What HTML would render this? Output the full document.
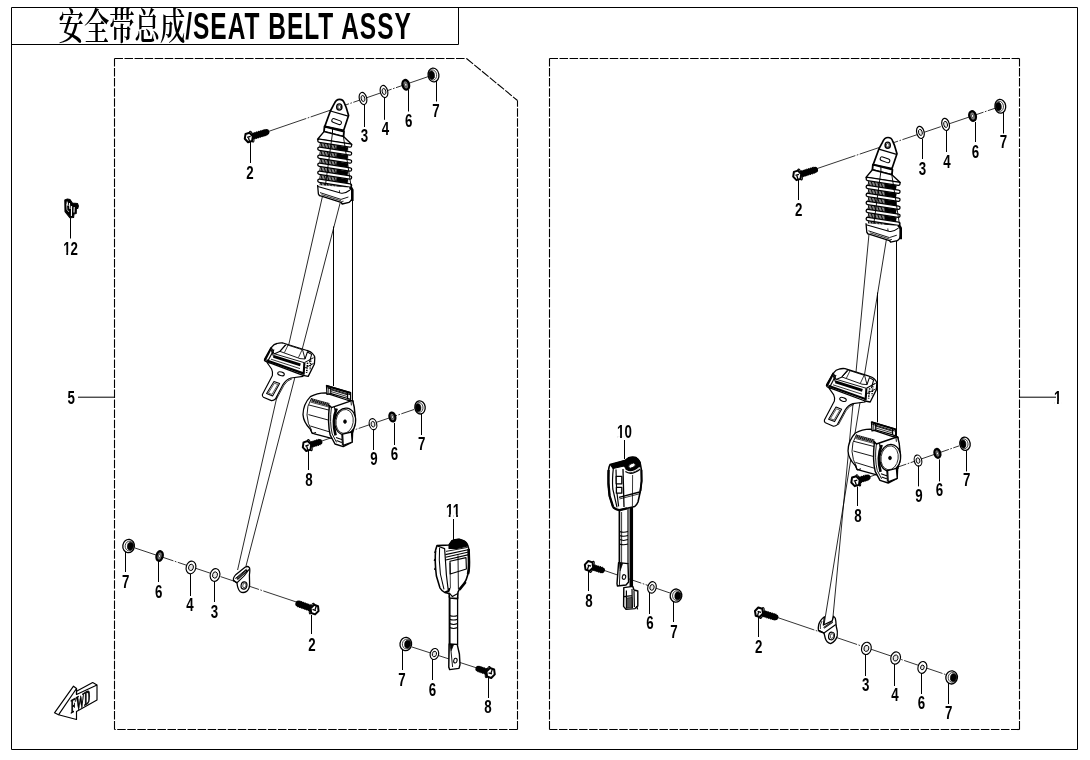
<!DOCTYPE html>
<html lang="zh"><head><meta charset="utf-8"><title>安全带总成/SEAT BELT ASSY</title>
<style>
html,body{margin:0;padding:0;background:#fff;}
body{width:1090px;height:760px;overflow:hidden;}
svg{display:block;filter:grayscale(1);}
.lb{font-family:"Liberation Sans",sans-serif;font-weight:bold;font-size:18px;fill:#000;stroke:none;}
.tcn{font-family:"Liberation Serif","Noto Serif CJK SC",serif;font-size:37px;font-weight:600;fill:#000;stroke:none;}
.ten{font-family:"Liberation Sans",sans-serif;font-weight:bold;font-size:37.4px;letter-spacing:1.5px;fill:#000;stroke:none;}
.fwd{font-family:"Liberation Serif",serif;font-weight:bold;font-size:11px;fill:#000;stroke:#000;stroke-width:0.5px;}
</style></head><body>
<svg width="1090" height="760" viewBox="0 0 1090 760" fill="none" stroke="#000" stroke-linecap="butt" stroke-linejoin="round">
<rect x="0" y="0" width="1090" height="760" fill="#fff" stroke="none"/>
<g id="frame">
<rect x="11.5" y="7.5" width="1066" height="742" stroke-width="1"/>
<path d="M11.5 44.5 H458.5 V7.5" stroke-width="1"/>
<line x1="114.5" y1="58.5" x2="466.5" y2="58.5" stroke-dasharray="8.5 1.545" stroke-width="1.1"/>
<line x1="466.5" y1="58.5" x2="517.5" y2="100.5" stroke-dasharray="8.5 1.545" stroke-width="1.1"/>
<line x1="517.5" y1="729.5" x2="517.5" y2="100.5" stroke-dasharray="8.5 1.545" stroke-width="1.1"/>
<line x1="517.5" y1="729.5" x2="114.5" y2="729.5" stroke-dasharray="8.5 1.545" stroke-width="1.1"/>
<line x1="114.5" y1="729.5" x2="114.5" y2="58.5" stroke-dasharray="8.5 1.545" stroke-width="1.1"/>
<line x1="549.5" y1="58.5" x2="1019.5" y2="58.5" stroke-dasharray="8.5 1.545" stroke-width="1.1"/>
<line x1="1019.5" y1="729.5" x2="1019.5" y2="58.5" stroke-dasharray="8.5 1.545" stroke-width="1.1"/>
<line x1="1019.5" y1="729.5" x2="549.5" y2="729.5" stroke-dasharray="8.5 1.545" stroke-width="1.1"/>
<line x1="549.5" y1="729.5" x2="549.5" y2="58.5" stroke-dasharray="8.5 1.545" stroke-width="1.1"/>
</g>
<g id="title">
<text class="tcn" transform="translate(58.6 39.6) scale(0.685 1)">安全带总成</text>
<text class="ten" transform="translate(185.2 38.8) scale(0.655 1)">/SEAT BELT ASSY</text>
</g>
<g id="side-labels">
<line x1="78" y1="397.2" x2="114.5" y2="397.2" stroke-width="1.0" />
<g transform="translate(71.2 403.5) scale(0.74 1)">
<text class="lb" text-anchor="middle">5</text>
</g>
<line x1="1019.5" y1="397.2" x2="1056" y2="397.2" stroke-width="1.0" />
<g transform="translate(1057.6 403.5) scale(0.74 1)">
<text class="lb" text-anchor="middle">1</text>
<rect x="-4.4" y="-2.05" width="3.63" height="2.6" fill="#fff" stroke="none"/>
<rect x="1.62" y="-2.05" width="3.6" height="2.6" fill="#fff" stroke="none"/>
</g>
<line x1="70.5" y1="218" x2="70.5" y2="238.5" stroke-width="1.0" />
<g transform="translate(70.6 254.5) scale(0.74 1)">
<text class="lb" text-anchor="middle">12</text>
<rect x="-9.41" y="-2.05" width="3.63" height="2.6" fill="#fff" stroke="none"/>
<rect x="-3.38" y="-2.05" width="3.6" height="2.6" fill="#fff" stroke="none"/>
</g>
</g>
<g id="L-top-row">
<line x1="268" y1="131.6" x2="430" y2="76" stroke-width="0.8" stroke-dasharray="40.5 1.5 1.6 1.5" stroke-dashoffset="0"/>
<line x1="251.67" y1="136.64" x2="266.32" y2="132.23" stroke-width="6.2" stroke-linecap="round"/>
<line x1="251.67" y1="136.64" x2="266.32" y2="132.23" stroke-width="7.1000000000000005" stroke-dasharray="1 0.9"/>
<ellipse cx="251.67" cy="136.64" rx="1.5" ry="5.6" stroke-width="1.2" fill="#fff" transform="rotate(-16.75 251.67 136.64)" />
<path d="M252.82 136.29 L252.06 141.04 L248.04 142.25 L244.78 138.71 L245.54 133.96 L249.56 132.75 Z" stroke-width="2.0" fill="#fff" />
<line x1="247.12" y1="137.48" x2="250.57" y2="136.44" stroke-width="1.3" />
<line x1="248.42" y1="137.62" x2="249.57" y2="141.45" stroke-width="1.3" />
<ellipse cx="363" cy="98.5" rx="3.7" ry="6.2" stroke-width="1.15" fill="#fff" transform="rotate(-14 363 98.5)" />
<ellipse cx="363" cy="98.5" rx="1.85" ry="3.1" stroke-width="0.9" fill="#e8e8e8" transform="rotate(-14 363 98.5)" />
<ellipse cx="384" cy="91.5" rx="3.7" ry="6.2" stroke-width="1.15" fill="#fff" transform="rotate(-14 384 91.5)" />
<ellipse cx="384" cy="91.5" rx="1.85" ry="3.1" stroke-width="0.9" fill="#e8e8e8" transform="rotate(-14 384 91.5)" />
<ellipse cx="405.8" cy="84.8" rx="3.25" ry="4.85" stroke-width="2.3" fill="#777" transform="rotate(-14 405.8 84.8)" />
<ellipse cx="405.8" cy="84.8" rx="1.1" ry="1.5" stroke-width="0.5" fill="#fff" transform="rotate(-14 405.8 84.8)" />
<ellipse cx="433.5" cy="75" rx="5.4" ry="6.9" stroke-width="1.3" fill="#fff" transform="rotate(-8 433.5 75)" />
<ellipse cx="432.74" cy="75" rx="3.89" ry="5.11" stroke-width="0.7" fill="none" transform="rotate(-8 432.74 75)" />
<ellipse cx="431.8" cy="75.2" rx="2.7" ry="4.14" stroke-width="0.6" fill="#000" transform="rotate(-8 431.8 75.2)" />
<line x1="250.5" y1="141.6" x2="250.5" y2="163" stroke-width="1.0" />
<g transform="translate(250 178.5) scale(0.74 1)">
<text class="lb" text-anchor="middle">2</text>
</g>
<line x1="364.5" y1="105" x2="364.5" y2="127" stroke-width="1.0" />
<g transform="translate(364.4 141.5) scale(0.74 1)">
<text class="lb" text-anchor="middle">3</text>
</g>
<line x1="384.5" y1="98" x2="384.5" y2="119.8" stroke-width="1.0" />
<g transform="translate(385.4 134.9) scale(0.74 1)">
<text class="lb" text-anchor="middle">4</text>
</g>
<line x1="408.5" y1="90" x2="408.5" y2="111.5" stroke-width="1.0" />
<g transform="translate(408.6 126.5) scale(0.74 1)">
<text class="lb" text-anchor="middle">6</text>
</g>
<line x1="436.5" y1="80.5" x2="436.5" y2="101.5" stroke-width="1.0" />
<g transform="translate(436 116.5) scale(0.74 1)">
<text class="lb" text-anchor="middle">7</text>
</g>
</g>
<g id="L-retr-row">
<line x1="316" y1="443" x2="414" y2="409.5" stroke-width="0.8" stroke-dasharray="40.5 1.5 1.6 1.5" stroke-dashoffset="0"/>
<line x1="309.86" y1="445.09" x2="319.47" y2="442.02" stroke-width="5.8" stroke-linecap="round"/>
<line x1="309.86" y1="445.09" x2="319.47" y2="442.02" stroke-width="6.7" stroke-dasharray="1 0.9"/>
<ellipse cx="309.86" cy="445.09" rx="1.5" ry="5.8" stroke-width="1.2" fill="#fff" transform="rotate(-17.72 309.86 445.09)" />
<path d="M311.19 444.66 L310.47 449.62 L306.27 450.96 L302.81 447.34 L303.53 442.38 L307.73 441.04 Z" stroke-width="2.0" fill="#fff" />
<line x1="305.32" y1="446.01" x2="308.75" y2="444.92" stroke-width="1.3" />
<line x1="306.62" y1="446.12" x2="307.9" y2="450.12" stroke-width="1.3" />
<ellipse cx="373" cy="424.2" rx="3.7" ry="5.6" stroke-width="1.15" fill="#fff" transform="rotate(-14 373 424.2)" />
<ellipse cx="373" cy="424.2" rx="1.85" ry="2.8" stroke-width="0.9" fill="#e8e8e8" transform="rotate(-14 373 424.2)" />
<ellipse cx="392.4" cy="417" rx="2.85" ry="4.45" stroke-width="2.3" fill="#777" transform="rotate(-14 392.4 417)" />
<ellipse cx="392.4" cy="417" rx="1" ry="1.4" stroke-width="0.5" fill="#fff" transform="rotate(-14 392.4 417)" />
<ellipse cx="420" cy="407.4" rx="5.2" ry="6.6" stroke-width="1.3" fill="#fff" transform="rotate(-8 420 407.4)" />
<ellipse cx="419.24" cy="407.4" rx="3.74" ry="4.88" stroke-width="0.7" fill="none" transform="rotate(-8 419.24 407.4)" />
<ellipse cx="418.3" cy="407.6" rx="2.6" ry="3.96" stroke-width="0.6" fill="#000" transform="rotate(-8 418.3 407.6)" />
<line x1="373.5" y1="429" x2="373.5" y2="450" stroke-width="1.0" />
<g transform="translate(374 465.1) scale(0.74 1)">
<text class="lb" text-anchor="middle">9</text>
</g>
<line x1="394.5" y1="423" x2="394.5" y2="445" stroke-width="1.0" />
<g transform="translate(394.5 459.5) scale(0.74 1)">
<text class="lb" text-anchor="middle">6</text>
</g>
<line x1="421.5" y1="414" x2="421.5" y2="435" stroke-width="1.0" />
<g transform="translate(421.6 450) scale(0.74 1)">
<text class="lb" text-anchor="middle">7</text>
</g>
<line x1="308.5" y1="450.5" x2="308.5" y2="470" stroke-width="1.0" />
<g transform="translate(309 485.5) scale(0.74 1)">
<text class="lb" text-anchor="middle">8</text>
</g>
</g>
<g id="L-low-row">
<line x1="135" y1="548" x2="297.6" y2="602.4" stroke-width="0.8" stroke-dasharray="40.5 1.5 1.6 1.5" stroke-dashoffset="0"/>
<ellipse cx="128.6" cy="546" rx="5.8" ry="6.6" stroke-width="1.3" fill="#fff" transform="rotate(8 128.6 546)" />
<ellipse cx="129.36" cy="546" rx="4.18" ry="4.88" stroke-width="0.7" fill="none" transform="rotate(8 129.36 546)" />
<ellipse cx="130.3" cy="546.2" rx="2.9" ry="3.96" stroke-width="0.6" fill="#000" transform="rotate(8 130.3 546.2)" />
<ellipse cx="159.6" cy="556" rx="3.05" ry="4.85" stroke-width="2.3" fill="#777" transform="rotate(14 159.6 556)" />
<ellipse cx="159.6" cy="556" rx="1.05" ry="1.5" stroke-width="0.5" fill="#fff" transform="rotate(14 159.6 556)" />
<ellipse cx="191" cy="567.4" rx="4.8" ry="6.4" stroke-width="1.15" fill="#fff" transform="rotate(14 191 567.4)" />
<ellipse cx="191" cy="567.4" rx="2.4" ry="3.2" stroke-width="0.9" fill="#e8e8e8" transform="rotate(14 191 567.4)" />
<ellipse cx="215" cy="575" rx="4.8" ry="6.4" stroke-width="1.15" fill="#fff" transform="rotate(14 215 575)" />
<ellipse cx="215" cy="575" rx="2.4" ry="3.2" stroke-width="0.9" fill="#e8e8e8" transform="rotate(14 215 575)" />
<line x1="311.78" y1="608.58" x2="298.44" y2="603.74" stroke-width="6.2" stroke-linecap="round"/>
<line x1="311.78" y1="608.58" x2="298.44" y2="603.74" stroke-width="7.1000000000000005" stroke-dasharray="1 0.9"/>
<ellipse cx="311.78" cy="608.58" rx="1.5" ry="5.6" stroke-width="1.2" fill="#fff" transform="rotate(-160.07 311.78 608.58)" />
<path d="M310.65 608.17 L314.1 604.81 L318.05 606.25 L318.55 611.03 L315.1 614.39 L311.15 612.95 Z" stroke-width="2.0" fill="#fff" />
<line x1="315.93" y1="610.62" x2="312.55" y2="609.39" stroke-width="1.3" />
<line x1="314.98" y1="609.74" x2="316.34" y2="605.98" stroke-width="1.3" />
<line x1="125.5" y1="552" x2="125.5" y2="572" stroke-width="1.0" />
<g transform="translate(125.6 587.5) scale(0.74 1)">
<text class="lb" text-anchor="middle">7</text>
</g>
<line x1="158.5" y1="561" x2="158.5" y2="582" stroke-width="1.0" />
<g transform="translate(158.6 597.9) scale(0.74 1)">
<text class="lb" text-anchor="middle">6</text>
</g>
<line x1="190.5" y1="574" x2="190.5" y2="596" stroke-width="1.0" />
<g transform="translate(190 610.9) scale(0.74 1)">
<text class="lb" text-anchor="middle">4</text>
</g>
<line x1="214.5" y1="582" x2="214.5" y2="602" stroke-width="1.0" />
<g transform="translate(214.4 617.5) scale(0.74 1)">
<text class="lb" text-anchor="middle">3</text>
</g>
<line x1="311.5" y1="615" x2="311.5" y2="634" stroke-width="1.0" />
<g transform="translate(312 650.9) scale(0.74 1)">
<text class="lb" text-anchor="middle">2</text>
</g>
</g>
<g id="L-buckle-row">
<line x1="412" y1="647" x2="477" y2="668" stroke-width="0.8" stroke-dasharray="40.5 1.5 1.6 1.5" stroke-dashoffset="0"/>
<ellipse cx="405.8" cy="644" rx="5.8" ry="6.6" stroke-width="1.3" fill="#fff" transform="rotate(8 405.8 644)" />
<ellipse cx="406.56" cy="644" rx="4.18" ry="4.88" stroke-width="0.7" fill="none" transform="rotate(8 406.56 644)" />
<ellipse cx="407.5" cy="644.2" rx="2.9" ry="3.96" stroke-width="0.6" fill="#000" transform="rotate(8 407.5 644.2)" />
<ellipse cx="434.4" cy="654" rx="4.2" ry="5.6" stroke-width="1.15" fill="#fff" transform="rotate(14 434.4 654)" />
<ellipse cx="434.4" cy="654" rx="2.1" ry="2.8" stroke-width="0.9" fill="#e8e8e8" transform="rotate(14 434.4 654)" />
<line x1="487.76" y1="672.04" x2="478.32" y2="668.85" stroke-width="5.8" stroke-linecap="round"/>
<line x1="487.76" y1="672.04" x2="478.32" y2="668.85" stroke-width="6.7" stroke-dasharray="1 0.9"/>
<ellipse cx="487.76" cy="672.04" rx="1.5" ry="5.8" stroke-width="1.2" fill="#fff" transform="rotate(-161.32 487.76 672.04)" />
<path d="M486.43 671.59 L489.96 668.03 L494.13 669.44 L494.77 674.41 L491.24 677.97 L487.07 676.56 Z" stroke-width="2.0" fill="#fff" />
<line x1="491.96" y1="673.99" x2="488.55" y2="672.83" stroke-width="1.3" />
<line x1="490.98" y1="673.13" x2="492.32" y2="669.15" stroke-width="1.3" />
<line x1="402.5" y1="649" x2="402.5" y2="670" stroke-width="1.0" />
<g transform="translate(402 685.9) scale(0.74 1)">
<text class="lb" text-anchor="middle">7</text>
</g>
<line x1="432.5" y1="659" x2="432.5" y2="680" stroke-width="1.0" />
<g transform="translate(432.4 695.5) scale(0.74 1)">
<text class="lb" text-anchor="middle">6</text>
</g>
<line x1="488.5" y1="678" x2="488.5" y2="698" stroke-width="1.0" />
<g transform="translate(488 712.9) scale(0.74 1)">
<text class="lb" text-anchor="middle">8</text>
</g>
<line x1="453.5" y1="519" x2="453.5" y2="540" stroke-width="1.0" />
<g transform="translate(453 516.5) scale(0.74 1)">
<text class="lb" text-anchor="middle">11</text>
<rect x="-9.41" y="-2.05" width="3.63" height="2.6" fill="#fff" stroke="none"/>
<rect x="-3.38" y="-2.05" width="3.6" height="2.6" fill="#fff" stroke="none"/>
<rect x="0.6" y="-2.05" width="3.63" height="2.6" fill="#fff" stroke="none"/>
<rect x="6.62" y="-2.05" width="3.6" height="2.6" fill="#fff" stroke="none"/>
</g>
</g>
<g id="R-buckle-row">
<line x1="603" y1="570" x2="670" y2="593" stroke-width="0.8" stroke-dasharray="40.5 1.5 1.6 1.5" stroke-dashoffset="0"/>
<line x1="591.86" y1="566.91" x2="602.07" y2="570.18" stroke-width="5.8" stroke-linecap="round"/>
<line x1="591.86" y1="566.91" x2="602.07" y2="570.18" stroke-width="6.7" stroke-dasharray="1 0.9"/>
<ellipse cx="591.86" cy="566.91" rx="1.5" ry="5.8" stroke-width="1.2" fill="#fff" transform="rotate(17.74 591.86 566.91)" />
<path d="M593.19 567.34 L589.72 570.96 L585.53 569.62 L584.81 564.66 L588.28 561.04 L592.47 562.38 Z" stroke-width="2.0" fill="#fff" />
<line x1="587.63" y1="565.04" x2="591.06" y2="566.13" stroke-width="1.3" />
<line x1="588.62" y1="565.88" x2="587.34" y2="569.88" stroke-width="1.3" />
<ellipse cx="652" cy="587.4" rx="4.2" ry="5.8" stroke-width="1.15" fill="#fff" transform="rotate(14 652 587.4)" />
<ellipse cx="652" cy="587.4" rx="2.1" ry="2.9" stroke-width="0.9" fill="#e8e8e8" transform="rotate(14 652 587.4)" />
<ellipse cx="676" cy="595.6" rx="5.8" ry="6.6" stroke-width="1.3" fill="#fff" transform="rotate(8 676 595.6)" />
<ellipse cx="676.76" cy="595.6" rx="4.18" ry="4.88" stroke-width="0.7" fill="none" transform="rotate(8 676.76 595.6)" />
<ellipse cx="677.7" cy="595.8" rx="2.9" ry="3.96" stroke-width="0.6" fill="#000" transform="rotate(8 677.7 595.8)" />
<line x1="588.5" y1="571" x2="588.5" y2="591" stroke-width="1.0" />
<g transform="translate(589 606.5) scale(0.74 1)">
<text class="lb" text-anchor="middle">8</text>
</g>
<line x1="649.5" y1="593" x2="649.5" y2="614" stroke-width="1.0" />
<g transform="translate(650 629.1) scale(0.74 1)">
<text class="lb" text-anchor="middle">6</text>
</g>
<line x1="673.5" y1="602" x2="673.5" y2="622" stroke-width="1.0" />
<g transform="translate(674 637.9) scale(0.74 1)">
<text class="lb" text-anchor="middle">7</text>
</g>
<line x1="624.5" y1="440" x2="624.5" y2="459" stroke-width="1.0" />
<g transform="translate(624.4 438.1) scale(0.74 1)">
<text class="lb" text-anchor="middle">10</text>
<rect x="-9.41" y="-2.05" width="3.63" height="2.6" fill="#fff" stroke="none"/>
<rect x="-3.38" y="-2.05" width="3.6" height="2.6" fill="#fff" stroke="none"/>
</g>
</g>
<g id="R-top-row">
<line x1="817" y1="168.6" x2="997" y2="107.6" stroke-width="0.8" stroke-dasharray="40.5 1.5 1.6 1.5" stroke-dashoffset="0"/>
<line x1="800.06" y1="174.5" x2="814.93" y2="169.85" stroke-width="6.2" stroke-linecap="round"/>
<line x1="800.06" y1="174.5" x2="814.93" y2="169.85" stroke-width="7.1000000000000005" stroke-dasharray="1 0.9"/>
<ellipse cx="800.06" cy="174.5" rx="1.5" ry="5.6" stroke-width="1.2" fill="#fff" transform="rotate(-17.39 800.06 174.5)" />
<path d="M801.21 174.14 L800.5 178.9 L796.49 180.16 L793.19 176.66 L793.9 171.9 L797.91 170.64 Z" stroke-width="2.0" fill="#fff" />
<line x1="795.52" y1="175.4" x2="798.96" y2="174.33" stroke-width="1.3" />
<line x1="796.82" y1="175.52" x2="798.01" y2="179.34" stroke-width="1.3" />
<ellipse cx="920.4" cy="132.4" rx="3.7" ry="6.2" stroke-width="1.15" fill="#fff" transform="rotate(-14 920.4 132.4)" />
<ellipse cx="920.4" cy="132.4" rx="1.85" ry="3.1" stroke-width="0.9" fill="#e8e8e8" transform="rotate(-14 920.4 132.4)" />
<ellipse cx="945.6" cy="124.4" rx="3.7" ry="6.2" stroke-width="1.15" fill="#fff" transform="rotate(-14 945.6 124.4)" />
<ellipse cx="945.6" cy="124.4" rx="1.85" ry="3.1" stroke-width="0.9" fill="#e8e8e8" transform="rotate(-14 945.6 124.4)" />
<ellipse cx="972.6" cy="116" rx="3.25" ry="4.85" stroke-width="2.3" fill="#777" transform="rotate(-14 972.6 116)" />
<ellipse cx="972.6" cy="116" rx="1.1" ry="1.5" stroke-width="0.5" fill="#fff" transform="rotate(-14 972.6 116)" />
<ellipse cx="1000.3" cy="106.3" rx="5.4" ry="6.9" stroke-width="1.3" fill="#fff" transform="rotate(-8 1000.3 106.3)" />
<ellipse cx="999.53" cy="106.3" rx="3.89" ry="5.11" stroke-width="0.7" fill="none" transform="rotate(-8 999.53 106.3)" />
<ellipse cx="998.6" cy="106.5" rx="2.7" ry="4.14" stroke-width="0.6" fill="#000" transform="rotate(-8 998.6 106.5)" />
<line x1="798.5" y1="180" x2="798.5" y2="200" stroke-width="1.0" />
<g transform="translate(798.6 216.1) scale(0.74 1)">
<text class="lb" text-anchor="middle">2</text>
</g>
<line x1="922.5" y1="139" x2="922.5" y2="159" stroke-width="1.0" />
<g transform="translate(922.4 174.5) scale(0.74 1)">
<text class="lb" text-anchor="middle">3</text>
</g>
<line x1="946.5" y1="131" x2="946.5" y2="152" stroke-width="1.0" />
<g transform="translate(947 168.1) scale(0.74 1)">
<text class="lb" text-anchor="middle">4</text>
</g>
<line x1="975.5" y1="122" x2="975.5" y2="142" stroke-width="1.0" />
<g transform="translate(975.4 157.5) scale(0.74 1)">
<text class="lb" text-anchor="middle">6</text>
</g>
<line x1="1003.5" y1="112" x2="1003.5" y2="133.5" stroke-width="1.0" />
<g transform="translate(1003.4 148) scale(0.74 1)">
<text class="lb" text-anchor="middle">7</text>
</g>
</g>
<g id="R-retr-row">
<line x1="868" y1="477.4" x2="959" y2="445.9" stroke-width="0.8" stroke-dasharray="40.5 1.5 1.6 1.5" stroke-dashoffset="0"/>
<line x1="858.36" y1="480.31" x2="867.66" y2="477.4" stroke-width="5.8" stroke-linecap="round"/>
<line x1="858.36" y1="480.31" x2="867.66" y2="477.4" stroke-width="6.7" stroke-dasharray="1 0.9"/>
<ellipse cx="858.36" cy="480.31" rx="1.5" ry="5.8" stroke-width="1.2" fill="#fff" transform="rotate(-17.33 858.36 480.31)" />
<path d="M859.7 479.89 L858.94 484.84 L854.74 486.15 L851.3 482.51 L852.06 477.56 L856.26 476.25 Z" stroke-width="2.0" fill="#fff" />
<line x1="853.82" y1="481.2" x2="857.26" y2="480.13" stroke-width="1.3" />
<line x1="855.12" y1="481.32" x2="856.37" y2="485.33" stroke-width="1.3" />
<ellipse cx="918" cy="460.6" rx="3.7" ry="5.6" stroke-width="1.15" fill="#fff" transform="rotate(-14 918 460.6)" />
<ellipse cx="918" cy="460.6" rx="1.85" ry="2.8" stroke-width="0.9" fill="#e8e8e8" transform="rotate(-14 918 460.6)" />
<ellipse cx="937.4" cy="453.4" rx="2.85" ry="4.45" stroke-width="2.3" fill="#777" transform="rotate(-14 937.4 453.4)" />
<ellipse cx="937.4" cy="453.4" rx="1" ry="1.4" stroke-width="0.5" fill="#fff" transform="rotate(-14 937.4 453.4)" />
<ellipse cx="965" cy="443.8" rx="5.2" ry="6.6" stroke-width="1.3" fill="#fff" transform="rotate(-8 965 443.8)" />
<ellipse cx="964.24" cy="443.8" rx="3.74" ry="4.88" stroke-width="0.7" fill="none" transform="rotate(-8 964.24 443.8)" />
<ellipse cx="963.3" cy="444" rx="2.6" ry="3.96" stroke-width="0.6" fill="#000" transform="rotate(-8 963.3 444)" />
<line x1="918.5" y1="465.4" x2="918.5" y2="486.4" stroke-width="1.0" />
<g transform="translate(919 501.5) scale(0.74 1)">
<text class="lb" text-anchor="middle">9</text>
</g>
<line x1="939.5" y1="459.4" x2="939.5" y2="481.4" stroke-width="1.0" />
<g transform="translate(939.5 495.9) scale(0.74 1)">
<text class="lb" text-anchor="middle">6</text>
</g>
<line x1="966.5" y1="450.4" x2="966.5" y2="471.4" stroke-width="1.0" />
<g transform="translate(966.6 486.4) scale(0.74 1)">
<text class="lb" text-anchor="middle">7</text>
</g>
<line x1="857.5" y1="486.5" x2="857.5" y2="506" stroke-width="1.0" />
<g transform="translate(858 521.5) scale(0.74 1)">
<text class="lb" text-anchor="middle">8</text>
</g>
</g>
<g id="R-low-row">
<line x1="776" y1="617" x2="947" y2="675" stroke-width="0.8" stroke-dasharray="40.5 1.5 1.6 1.5" stroke-dashoffset="0"/>
<line x1="761.87" y1="613.07" x2="775.32" y2="617.17" stroke-width="6.2" stroke-linecap="round"/>
<line x1="761.87" y1="613.07" x2="775.32" y2="617.17" stroke-width="7.1000000000000005" stroke-dasharray="1 0.9"/>
<ellipse cx="761.87" cy="613.07" rx="1.5" ry="5.6" stroke-width="1.2" fill="#fff" transform="rotate(16.93 761.87 613.07)" />
<path d="M763.02 613.42 L759.75 616.95 L755.73 615.73 L754.98 610.98 L758.25 607.45 L762.27 608.67 Z" stroke-width="2.0" fill="#fff" />
<line x1="757.61" y1="611.26" x2="761.06" y2="612.3" stroke-width="1.3" />
<line x1="758.62" y1="612.08" x2="757.45" y2="615.91" stroke-width="1.3" />
<ellipse cx="866.4" cy="648.4" rx="4.8" ry="6.2" stroke-width="1.15" fill="#fff" transform="rotate(14 866.4 648.4)" />
<ellipse cx="866.4" cy="648.4" rx="2.4" ry="3.1" stroke-width="0.9" fill="#e8e8e8" transform="rotate(14 866.4 648.4)" />
<ellipse cx="895.6" cy="658" rx="4.8" ry="6.2" stroke-width="1.15" fill="#fff" transform="rotate(14 895.6 658)" />
<ellipse cx="895.6" cy="658" rx="2.4" ry="3.1" stroke-width="0.9" fill="#e8e8e8" transform="rotate(14 895.6 658)" />
<ellipse cx="922.4" cy="667.4" rx="4.4" ry="6" stroke-width="1.15" fill="#fff" transform="rotate(14 922.4 667.4)" />
<ellipse cx="922.4" cy="667.4" rx="1.76" ry="2.4" stroke-width="0.9" fill="#e8e8e8" transform="rotate(14 922.4 667.4)" />
<ellipse cx="951.6" cy="677.4" rx="5.8" ry="6.6" stroke-width="1.3" fill="#fff" transform="rotate(8 951.6 677.4)" />
<ellipse cx="952.37" cy="677.4" rx="4.18" ry="4.88" stroke-width="0.7" fill="none" transform="rotate(8 952.37 677.4)" />
<ellipse cx="953.3" cy="677.6" rx="2.9" ry="3.96" stroke-width="0.6" fill="#000" transform="rotate(8 953.3 677.6)" />
<line x1="758.5" y1="617" x2="758.5" y2="637" stroke-width="1.0" />
<g transform="translate(758.6 653.1) scale(0.74 1)">
<text class="lb" text-anchor="middle">2</text>
</g>
<line x1="865.5" y1="655" x2="865.5" y2="676" stroke-width="1.0" />
<g transform="translate(865.6 690.9) scale(0.74 1)">
<text class="lb" text-anchor="middle">3</text>
</g>
<line x1="894.5" y1="664" x2="894.5" y2="686" stroke-width="1.0" />
<g transform="translate(895 701.1) scale(0.74 1)">
<text class="lb" text-anchor="middle">4</text>
</g>
<line x1="921.5" y1="673" x2="921.5" y2="694" stroke-width="1.0" />
<g transform="translate(921.4 708.5) scale(0.74 1)">
<text class="lb" text-anchor="middle">6</text>
</g>
<line x1="948.5" y1="683" x2="948.5" y2="704" stroke-width="1.0" />
<g transform="translate(948.6 718.9) scale(0.74 1)">
<text class="lb" text-anchor="middle">7</text>
</g>
</g>
<g id="L-belt">
<line x1="322.4" y1="196.6" x2="237.6" y2="570" stroke-width="0.85" />
<line x1="340.3" y1="202.3" x2="246" y2="566" stroke-width="0.85" />
<line x1="333.5" y1="226.5" x2="333.5" y2="386" stroke-width="1.0" />
<line x1="352.5" y1="192" x2="352.5" y2="406" stroke-width="1.0" />
</g>
<g id="R-belt">
<line x1="869" y1="234" x2="832.6" y2="621" stroke-width="0.85" />
<line x1="886.4" y1="239.4" x2="824" y2="625" stroke-width="0.85" />
<line x1="877.5" y1="292.5" x2="877.5" y2="422.4" stroke-width="1.0" />
<line x1="896.5" y1="230" x2="896.5" y2="442.4" stroke-width="1.0" />
</g>
<g id="L-upper" transform="translate(0 0)">
<path d="M334 104.2 C335.5 100.5 337.5 99.3 339.6 99.3 C342 99.3 343.6 100.8 344.4 103.2 L346.2 107.5 L348.6 115.6 L343.6 130.4 L324.8 126.4 L330.4 111 Z" stroke-width="1.69" fill="#fff" />
<line x1="330.4" y1="111" x2="348.2" y2="116.2" stroke-width="1.3" />
<ellipse cx="339.3" cy="107" rx="2.6" ry="3.1" stroke-width="1.43" fill="none" />
<ellipse cx="339.3" cy="107" rx="1.4" ry="1.8" stroke-width="0.65" fill="none" />
<rect x="331.6" y="119.7" width="10" height="3.8" rx="1.9" stroke-width="1.0" transform="rotate(20 336.6 121.6)"/>
<path d="M324.5 126.5 L344 131.5 L343.5 136.6 L324 131.6 Z" stroke-width="1.82" fill="#fff" />
<line x1="332.5" y1="128.6" x2="332.5" y2="133.8" stroke-width="1.04" />
<path d="M324 131.6 L317.6 139.2 L351.8 144.4 L343.5 136.6 Z" stroke-width="1.43" fill="#fff" />
<path d="M319.6 144.8 L348.4 149.4" stroke="#000" stroke-width="4.2" stroke-dasharray="0.95 0.5"/>
<path d="M336.4 147.5 L347.6 149.3" stroke="#000" stroke-width="3.8"/>
<path d="M319.6 152.8 L348.4 157.4" stroke="#000" stroke-width="4.2" stroke-dasharray="0.95 0.5"/>
<path d="M336.4 155.5 L347.6 157.3" stroke="#000" stroke-width="3.8"/>
<path d="M319.6 160.8 L348.4 165.4" stroke="#000" stroke-width="4.2" stroke-dasharray="0.95 0.5"/>
<path d="M336.4 163.5 L347.6 165.3" stroke="#000" stroke-width="3.8"/>
<path d="M319.6 168.8 L348.4 173.4" stroke="#000" stroke-width="4.2" stroke-dasharray="0.95 0.5"/>
<path d="M336.4 171.5 L347.6 173.3" stroke="#000" stroke-width="3.8"/>
<path d="M319.6 176.8 L348.4 181.4" stroke="#000" stroke-width="4.2" stroke-dasharray="0.95 0.5"/>
<path d="M336.4 179.5 L347.6 181.3" stroke="#000" stroke-width="3.8"/>
<path d="M319.6 184.8 L348.4 189.4" stroke="#000" stroke-width="4.2" stroke-dasharray="0.95 0.5"/>
<path d="M336.4 187.5 L347.6 189.3" stroke="#000" stroke-width="3.8"/>
<path d="M319.4 140.7 L350 145.5" stroke="#000" stroke-width="4.6" stroke-linecap="round"/>
<path d="M319.4 140.7 L350 145.5" stroke="#fff" stroke-width="2.0" stroke-linecap="round"/>
<path d="M319.4 148.7 L350 153.5" stroke="#000" stroke-width="4.6" stroke-linecap="round"/>
<path d="M319.4 148.7 L350 153.5" stroke="#fff" stroke-width="2.0" stroke-linecap="round"/>
<path d="M319.4 156.7 L350 161.5" stroke="#000" stroke-width="4.6" stroke-linecap="round"/>
<path d="M319.4 156.7 L350 161.5" stroke="#fff" stroke-width="2.0" stroke-linecap="round"/>
<path d="M319.4 164.7 L350 169.5" stroke="#000" stroke-width="4.6" stroke-linecap="round"/>
<path d="M319.4 164.7 L350 169.5" stroke="#fff" stroke-width="2.0" stroke-linecap="round"/>
<path d="M319.4 172.7 L350 177.5" stroke="#000" stroke-width="4.6" stroke-linecap="round"/>
<path d="M319.4 172.7 L350 177.5" stroke="#fff" stroke-width="2.0" stroke-linecap="round"/>
<path d="M319.4 180.7 L350 185.5" stroke="#000" stroke-width="4.6" stroke-linecap="round"/>
<path d="M319.4 180.7 L350 185.5" stroke="#fff" stroke-width="2.0" stroke-linecap="round"/>
<line x1="332.4" y1="133.8" x2="325.2" y2="187" stroke-width="0.91" />
<line x1="343.4" y1="136.6" x2="351.2" y2="187" stroke-width="0.91" />
<path d="M317.6 185 L318.4 194 Q319 196 321.5 196.2 L341 202.4 L342.2 204 L349 202.4 Q352.4 200 352.2 196 L352.2 190.5 L349.4 187.6" stroke-width="1.3" fill="#fff" />
<path d="M317.8 186.6 L340.5 193 Q345 194 350 190" stroke-width="1.04" fill="none" />
<path d="M320 192.6 L341 199.4 L348.4 197" stroke-width="0.91" fill="none" />
<path d="M321.5 194.6 L341 200.8" stroke-width="0.78" fill="none" />
<line x1="339.4" y1="190.2" x2="339.6" y2="193" stroke-width="0.78" />
<path d="M350.6 187 L352.3 190 L352.3 201" stroke-width="2.6" fill="none" />
<path d="M342.2 204 L341.4 201.6 L343.6 201.2" stroke-width="0.78" fill="none" />
</g>
<g id="R-upper" transform="translate(548.4 38.2)">
<path d="M334 104.2 C335.5 100.5 337.5 99.3 339.6 99.3 C342 99.3 343.6 100.8 344.4 103.2 L346.2 107.5 L348.6 115.6 L343.6 130.4 L324.8 126.4 L330.4 111 Z" stroke-width="1.69" fill="#fff" />
<line x1="330.4" y1="111" x2="348.2" y2="116.2" stroke-width="1.3" />
<ellipse cx="339.3" cy="107" rx="2.6" ry="3.1" stroke-width="1.43" fill="none" />
<ellipse cx="339.3" cy="107" rx="1.4" ry="1.8" stroke-width="0.65" fill="none" />
<rect x="331.6" y="119.7" width="10" height="3.8" rx="1.9" stroke-width="1.0" transform="rotate(20 336.6 121.6)"/>
<path d="M324.5 126.5 L344 131.5 L343.5 136.6 L324 131.6 Z" stroke-width="1.82" fill="#fff" />
<line x1="332.5" y1="128.6" x2="332.5" y2="133.8" stroke-width="1.04" />
<path d="M324 131.6 L317.6 139.2 L351.8 144.4 L343.5 136.6 Z" stroke-width="1.43" fill="#fff" />
<path d="M319.6 144.8 L348.4 149.4" stroke="#000" stroke-width="4.2" stroke-dasharray="0.95 0.5"/>
<path d="M336.4 147.5 L347.6 149.3" stroke="#000" stroke-width="3.8"/>
<path d="M319.6 152.8 L348.4 157.4" stroke="#000" stroke-width="4.2" stroke-dasharray="0.95 0.5"/>
<path d="M336.4 155.5 L347.6 157.3" stroke="#000" stroke-width="3.8"/>
<path d="M319.6 160.8 L348.4 165.4" stroke="#000" stroke-width="4.2" stroke-dasharray="0.95 0.5"/>
<path d="M336.4 163.5 L347.6 165.3" stroke="#000" stroke-width="3.8"/>
<path d="M319.6 168.8 L348.4 173.4" stroke="#000" stroke-width="4.2" stroke-dasharray="0.95 0.5"/>
<path d="M336.4 171.5 L347.6 173.3" stroke="#000" stroke-width="3.8"/>
<path d="M319.6 176.8 L348.4 181.4" stroke="#000" stroke-width="4.2" stroke-dasharray="0.95 0.5"/>
<path d="M336.4 179.5 L347.6 181.3" stroke="#000" stroke-width="3.8"/>
<path d="M319.6 184.8 L348.4 189.4" stroke="#000" stroke-width="4.2" stroke-dasharray="0.95 0.5"/>
<path d="M336.4 187.5 L347.6 189.3" stroke="#000" stroke-width="3.8"/>
<path d="M319.4 140.7 L350 145.5" stroke="#000" stroke-width="4.6" stroke-linecap="round"/>
<path d="M319.4 140.7 L350 145.5" stroke="#fff" stroke-width="2.0" stroke-linecap="round"/>
<path d="M319.4 148.7 L350 153.5" stroke="#000" stroke-width="4.6" stroke-linecap="round"/>
<path d="M319.4 148.7 L350 153.5" stroke="#fff" stroke-width="2.0" stroke-linecap="round"/>
<path d="M319.4 156.7 L350 161.5" stroke="#000" stroke-width="4.6" stroke-linecap="round"/>
<path d="M319.4 156.7 L350 161.5" stroke="#fff" stroke-width="2.0" stroke-linecap="round"/>
<path d="M319.4 164.7 L350 169.5" stroke="#000" stroke-width="4.6" stroke-linecap="round"/>
<path d="M319.4 164.7 L350 169.5" stroke="#fff" stroke-width="2.0" stroke-linecap="round"/>
<path d="M319.4 172.7 L350 177.5" stroke="#000" stroke-width="4.6" stroke-linecap="round"/>
<path d="M319.4 172.7 L350 177.5" stroke="#fff" stroke-width="2.0" stroke-linecap="round"/>
<path d="M319.4 180.7 L350 185.5" stroke="#000" stroke-width="4.6" stroke-linecap="round"/>
<path d="M319.4 180.7 L350 185.5" stroke="#fff" stroke-width="2.0" stroke-linecap="round"/>
<line x1="332.4" y1="133.8" x2="325.2" y2="187" stroke-width="0.91" />
<line x1="343.4" y1="136.6" x2="351.2" y2="187" stroke-width="0.91" />
<path d="M317.6 185 L318.4 194 Q319 196 321.5 196.2 L341 202.4 L342.2 204 L349 202.4 Q352.4 200 352.2 196 L352.2 190.5 L349.4 187.6" stroke-width="1.3" fill="#fff" />
<path d="M317.8 186.6 L340.5 193 Q345 194 350 190" stroke-width="1.04" fill="none" />
<path d="M320 192.6 L341 199.4 L348.4 197" stroke-width="0.91" fill="none" />
<path d="M321.5 194.6 L341 200.8" stroke-width="0.78" fill="none" />
<line x1="339.4" y1="190.2" x2="339.6" y2="193" stroke-width="0.78" />
<path d="M350.6 187 L352.3 190 L352.3 201" stroke-width="2.6" fill="none" />
<path d="M342.2 204 L341.4 201.6 L343.6 201.2" stroke-width="0.78" fill="none" />
</g>
<g id="L-tongue" transform="translate(0 0)">
<path d="M267 362.5 L271.6 369 Q273 372 272.4 375.5 L262.4 394.4 Q262 396.4 263.4 397.2 L271.4 400.6 Q273.6 400.8 275.4 399 L283 384.6 Q286 379.6 291 378 L303 376.4 L300 366 Z" stroke-width="1.17" fill="#fff" />
<path d="M276.4 399.2 L284 385.2 Q287 380.2 292 378.8" stroke-width="0.78" fill="none" />
<path d="M274 381.4 L279.6 383.6 L272.6 396 L266.6 393.6 Z" stroke-width="1.04" fill="none" />
<path d="M274.4 383.2 L277.8 384.5 L272 394.4 L268.4 393 Z" stroke-width="0.65" fill="none" />
<ellipse cx="281" cy="373.8" rx="3.4" ry="1.8" stroke-width="1.04" fill="none" transform="rotate(16 281 373.8)" />
<path d="M270.6 348.4 L271.6 347.2 Q274 344 277 343.5 Q280 342.6 283 343 L307 350.5 Q311 351.6 312.6 353.6 Q315 356 314.8 358 L314.4 364 L308.2 376.4 L303 375.4 L265.2 361.2 Q264 360.4 264.6 359 Z" stroke-width="1.3" fill="#fff" />
<path d="M280 351.4 L286.4 344.6 L302.6 349.8 L305 359 L300 358.6 Z" stroke-width="0.91" fill="#fff" />
<line x1="288.4" y1="344.4" x2="284.4" y2="352.6" stroke-width="0.78" />
<line x1="302.2" y1="349.6" x2="298.4" y2="357.6" stroke-width="0.78" />
<path d="M272 348.6 L274 354 L279.6 351.6 L285.6 344.6" stroke-width="1.04" fill="none" />
<path d="M305 359 L307.4 352 L311.6 354.4 L309.4 362.4" stroke-width="1.04" fill="none" />
<path d="M270.6 348.4 L273.6 356.6" stroke-width="1.04" fill="none" />
<path d="M271.6 347.4 L265 360.4" stroke-width="1.82" fill="none" />
<path d="M274 349.4 L268 360.8" stroke-width="1.17" fill="none" />
<line x1="273.5" y1="356.3" x2="300.4" y2="364.8" stroke-width="2.86" />
<line x1="274.6" y1="353.8" x2="304" y2="362.6" stroke-width="0.91" />
<line x1="266.4" y1="360.2" x2="304" y2="373.6" stroke-width="2.21" />
<line x1="271" y1="359.2" x2="300" y2="368.6" stroke-width="0.78" />
<path d="M304.4 362.6 L303.6 374.6" stroke-width="2.08" fill="none" />
<path d="M307.6 362.6 L306.6 373" stroke-width="1.56" fill="none" stroke-dasharray="1.4 1"/>
<path d="M310.8 360.6 L310 370" stroke-width="1.56" fill="none" stroke-dasharray="1.2 1.1"/>
<path d="M304.4 362.6 L313.6 357.6" stroke-width="1.04" fill="none" />
<path d="M303.8 368.6 L313.6 363.4" stroke-width="0.91" fill="none" />
</g>
<g id="R-tongue" transform="translate(562 25.6)">
<path d="M267 362.5 L271.6 369 Q273 372 272.4 375.5 L262.4 394.4 Q262 396.4 263.4 397.2 L271.4 400.6 Q273.6 400.8 275.4 399 L283 384.6 Q286 379.6 291 378 L303 376.4 L300 366 Z" stroke-width="1.17" fill="#fff" />
<path d="M276.4 399.2 L284 385.2 Q287 380.2 292 378.8" stroke-width="0.78" fill="none" />
<path d="M274 381.4 L279.6 383.6 L272.6 396 L266.6 393.6 Z" stroke-width="1.04" fill="none" />
<path d="M274.4 383.2 L277.8 384.5 L272 394.4 L268.4 393 Z" stroke-width="0.65" fill="none" />
<ellipse cx="281" cy="373.8" rx="3.4" ry="1.8" stroke-width="1.04" fill="none" transform="rotate(16 281 373.8)" />
<path d="M270.6 348.4 L271.6 347.2 Q274 344 277 343.5 Q280 342.6 283 343 L307 350.5 Q311 351.6 312.6 353.6 Q315 356 314.8 358 L314.4 364 L308.2 376.4 L303 375.4 L265.2 361.2 Q264 360.4 264.6 359 Z" stroke-width="1.3" fill="#fff" />
<path d="M280 351.4 L286.4 344.6 L302.6 349.8 L305 359 L300 358.6 Z" stroke-width="0.91" fill="#fff" />
<line x1="288.4" y1="344.4" x2="284.4" y2="352.6" stroke-width="0.78" />
<line x1="302.2" y1="349.6" x2="298.4" y2="357.6" stroke-width="0.78" />
<path d="M272 348.6 L274 354 L279.6 351.6 L285.6 344.6" stroke-width="1.04" fill="none" />
<path d="M305 359 L307.4 352 L311.6 354.4 L309.4 362.4" stroke-width="1.04" fill="none" />
<path d="M270.6 348.4 L273.6 356.6" stroke-width="1.04" fill="none" />
<path d="M271.6 347.4 L265 360.4" stroke-width="1.82" fill="none" />
<path d="M274 349.4 L268 360.8" stroke-width="1.17" fill="none" />
<line x1="273.5" y1="356.3" x2="300.4" y2="364.8" stroke-width="2.86" />
<line x1="274.6" y1="353.8" x2="304" y2="362.6" stroke-width="0.91" />
<line x1="266.4" y1="360.2" x2="304" y2="373.6" stroke-width="2.21" />
<line x1="271" y1="359.2" x2="300" y2="368.6" stroke-width="0.78" />
<path d="M304.4 362.6 L303.6 374.6" stroke-width="2.08" fill="none" />
<path d="M307.6 362.6 L306.6 373" stroke-width="1.56" fill="none" stroke-dasharray="1.4 1"/>
<path d="M310.8 360.6 L310 370" stroke-width="1.56" fill="none" stroke-dasharray="1.2 1.1"/>
<path d="M304.4 362.6 L313.6 357.6" stroke-width="1.04" fill="none" />
<path d="M303.8 368.6 L313.6 363.4" stroke-width="0.91" fill="none" />
</g>
<g id="L-retractor" transform="translate(0 0)">
<path d="M310.4 396.6 Q317 393 325.4 392.8 L347 400 L353 401 L353 432 L335.4 439.4 L314.4 433.8 L312 433 L310.4 429.4 Q303.4 422 303 414.6 Q303.2 404 310.4 396.6 Z" stroke-width="1.3" fill="#fff" />
<path d="M311.6 398 Q306.6 406 307 415 Q307.6 424 311.4 430" stroke-width="0.91" fill="none" />
<line x1="309" y1="405" x2="329.4" y2="410.2" stroke-width="0.91" />
<line x1="308.4" y1="414.6" x2="328.2" y2="420" stroke-width="0.91" />
<line x1="310.4" y1="426" x2="329.2" y2="431.8" stroke-width="0.91" />
<line x1="311.2" y1="398.6" x2="329.6" y2="403.6" stroke-width="0.72" />
<line x1="310.95" y1="399.75" x2="329.4" y2="404.75" stroke-width="0.72" />
<line x1="310.7" y1="400.9" x2="329.2" y2="405.9" stroke-width="0.72" />
<line x1="310.45" y1="402.05" x2="329" y2="407.05" stroke-width="0.72" />
<line x1="312" y1="398.6" x2="313.6" y2="402.2" stroke-width="0.91" />
<line x1="314.2" y1="399.2" x2="315.8" y2="402.8" stroke-width="0.91" />
<line x1="316.4" y1="399.8" x2="318" y2="403.4" stroke-width="0.91" />
<line x1="318.6" y1="400.4" x2="320.2" y2="404" stroke-width="0.91" />
<line x1="320.8" y1="401" x2="322.4" y2="404.6" stroke-width="0.91" />
<line x1="323" y1="401.6" x2="324.6" y2="405.2" stroke-width="0.91" />
<line x1="325.2" y1="402.2" x2="326.8" y2="405.8" stroke-width="0.91" />
<line x1="327.4" y1="402.8" x2="329" y2="406.4" stroke-width="0.91" />
<path d="M326.5 385.5 L350.6 392.6 L350.6 399.4 L346 398 L331 393.6 L327 394.4 Z" stroke-width="1.3" fill="#fff" />
<line x1="326.8" y1="386" x2="350.4" y2="393" stroke-width="1.95" />
<line x1="327.2" y1="387.8" x2="350.4" y2="394.8" stroke-width="0.91" />
<line x1="331" y1="389.8" x2="347.4" y2="394.8" stroke-width="0.91" />
<line x1="331" y1="391.6" x2="347.4" y2="396.6" stroke-width="0.78" />
<line x1="330.6" y1="387" x2="330.8" y2="393.6" stroke-width="1.17" />
<line x1="347.6" y1="392" x2="347.6" y2="398.4" stroke-width="1.17" />
<line x1="328.6" y1="386.4" x2="328.8" y2="394" stroke-width="0.78" />
<path d="M329.4 405.4 L331.4 407.6 L352.6 400.4 L354.2 407 Q356 417 354.6 426 L352.6 431.6 L352.2 442 L343.2 446.6 L335 444 L330.2 435 Q327.4 424 329.4 405.4 Z" stroke-width="1.43" fill="#fff" />
<path d="M331.4 407.6 Q329.4 422 332.2 434 L336.6 442.4" stroke-width="0.91" fill="none" />
<path d="M334.4 406.8 L334.8 410.4 L337.4 409.2" stroke-width="0.91" fill="none" />
<path d="M351 401.4 L351.4 405.4" stroke-width="0.91" fill="none" />
<path d="M336.6 408.6 Q331.6 421 335.6 435.4" stroke-width="2.6" fill="none" />
<ellipse cx="345.2" cy="421.4" rx="10.4" ry="13.4" stroke-width="1.3" fill="#fff" transform="rotate(8 345.2 421.4)" />
<ellipse cx="344.6" cy="421.4" rx="8.6" ry="12" stroke-width="0.78" fill="none" transform="rotate(8 344.6 421.4)" />
<ellipse cx="345" cy="421.6" rx="1.4" ry="1.8" stroke-width="0.78" fill="#000" />
<path d="M342.6 434.2 L351.4 432 L352.2 442 L343.2 445.4 Z" stroke-width="1.3" fill="#fff" />
<path d="M336 437.4 L341.6 439.4 M336.6 440.6 L341.6 442.4 M341.8 434.4 L342.4 445" stroke-width="1.04" fill="none" />
<path d="M310.6 429.4 L312.4 433.6 L316 432.4" stroke-width="1.04" fill="none" />
</g>
<g id="R-retractor" transform="translate(545 36.4)">
<path d="M310.4 396.6 Q317 393 325.4 392.8 L347 400 L353 401 L353 432 L335.4 439.4 L314.4 433.8 L312 433 L310.4 429.4 Q303.4 422 303 414.6 Q303.2 404 310.4 396.6 Z" stroke-width="1.3" fill="#fff" />
<path d="M311.6 398 Q306.6 406 307 415 Q307.6 424 311.4 430" stroke-width="0.91" fill="none" />
<line x1="309" y1="405" x2="329.4" y2="410.2" stroke-width="0.91" />
<line x1="308.4" y1="414.6" x2="328.2" y2="420" stroke-width="0.91" />
<line x1="310.4" y1="426" x2="329.2" y2="431.8" stroke-width="0.91" />
<line x1="311.2" y1="398.6" x2="329.6" y2="403.6" stroke-width="0.72" />
<line x1="310.95" y1="399.75" x2="329.4" y2="404.75" stroke-width="0.72" />
<line x1="310.7" y1="400.9" x2="329.2" y2="405.9" stroke-width="0.72" />
<line x1="310.45" y1="402.05" x2="329" y2="407.05" stroke-width="0.72" />
<line x1="312" y1="398.6" x2="313.6" y2="402.2" stroke-width="0.91" />
<line x1="314.2" y1="399.2" x2="315.8" y2="402.8" stroke-width="0.91" />
<line x1="316.4" y1="399.8" x2="318" y2="403.4" stroke-width="0.91" />
<line x1="318.6" y1="400.4" x2="320.2" y2="404" stroke-width="0.91" />
<line x1="320.8" y1="401" x2="322.4" y2="404.6" stroke-width="0.91" />
<line x1="323" y1="401.6" x2="324.6" y2="405.2" stroke-width="0.91" />
<line x1="325.2" y1="402.2" x2="326.8" y2="405.8" stroke-width="0.91" />
<line x1="327.4" y1="402.8" x2="329" y2="406.4" stroke-width="0.91" />
<path d="M326.5 385.5 L350.6 392.6 L350.6 399.4 L346 398 L331 393.6 L327 394.4 Z" stroke-width="1.3" fill="#fff" />
<line x1="326.8" y1="386" x2="350.4" y2="393" stroke-width="1.95" />
<line x1="327.2" y1="387.8" x2="350.4" y2="394.8" stroke-width="0.91" />
<line x1="331" y1="389.8" x2="347.4" y2="394.8" stroke-width="0.91" />
<line x1="331" y1="391.6" x2="347.4" y2="396.6" stroke-width="0.78" />
<line x1="330.6" y1="387" x2="330.8" y2="393.6" stroke-width="1.17" />
<line x1="347.6" y1="392" x2="347.6" y2="398.4" stroke-width="1.17" />
<line x1="328.6" y1="386.4" x2="328.8" y2="394" stroke-width="0.78" />
<path d="M329.4 405.4 L331.4 407.6 L352.6 400.4 L354.2 407 Q356 417 354.6 426 L352.6 431.6 L352.2 442 L343.2 446.6 L335 444 L330.2 435 Q327.4 424 329.4 405.4 Z" stroke-width="1.43" fill="#fff" />
<path d="M331.4 407.6 Q329.4 422 332.2 434 L336.6 442.4" stroke-width="0.91" fill="none" />
<path d="M334.4 406.8 L334.8 410.4 L337.4 409.2" stroke-width="0.91" fill="none" />
<path d="M351 401.4 L351.4 405.4" stroke-width="0.91" fill="none" />
<path d="M336.6 408.6 Q331.6 421 335.6 435.4" stroke-width="2.6" fill="none" />
<ellipse cx="345.2" cy="421.4" rx="10.4" ry="13.4" stroke-width="1.3" fill="#fff" transform="rotate(8 345.2 421.4)" />
<ellipse cx="344.6" cy="421.4" rx="8.6" ry="12" stroke-width="0.78" fill="none" transform="rotate(8 344.6 421.4)" />
<ellipse cx="345" cy="421.6" rx="1.4" ry="1.8" stroke-width="0.78" fill="#000" />
<path d="M342.6 434.2 L351.4 432 L352.2 442 L343.2 445.4 Z" stroke-width="1.3" fill="#fff" />
<path d="M336 437.4 L341.6 439.4 M336.6 440.6 L341.6 442.4 M341.8 434.4 L342.4 445" stroke-width="1.04" fill="none" />
<path d="M310.6 429.4 L312.4 433.6 L316 432.4" stroke-width="1.04" fill="none" />
</g>
<g id="L-lower-anchor">
<path d="M233.6 580.6 Q232.6 578 236 574.4 L245 567.2 Q247.6 565.6 249.4 567.6 Q250.2 569.6 249.4 575 L249.6 583 Q250 588.6 246.6 591.4 Q243 593.6 240 591.4 Q237.6 589 237 583 Z" stroke-width="1.3" fill="#fff" />
<path d="M233.6 580.6 L237 582.8 Q245 576 249.4 569" stroke-width="1.17" fill="none" />
<path d="M235.2 578.6 L246.4 569.2" stroke-width="0.91" fill="none" />
<path d="M237.6 578.6 L246.6 570.6" stroke="#000" stroke-width="2.2" stroke-linecap="round"/>
<path d="M237.8 578.4 L246.4 570.8" stroke="#fff" stroke-width="0.9" stroke-dasharray="0.6 0.7"/>
<ellipse cx="244" cy="585.5" rx="2.9" ry="3.7" stroke-width="1.17" fill="none" transform="rotate(10 244 585.5)" />
<ellipse cx="244.4" cy="585.5" rx="1.6" ry="2.4" stroke-width="0.65" fill="none" transform="rotate(10 244.4 585.5)" />
</g>
<g id="R-lower-anchor">
<path d="M818.5 630.4 Q817.6 625 820.6 620.6 Q822.4 618 824.4 616.8 L823.4 625 L832.2 620.8 L833.6 616.2 Q835.6 617.4 835.8 621 L836.2 626 Q838 632 837.2 636 Q835.6 641.6 830.6 643.6 Q826.4 642.6 825.2 638 L824 633 Z" stroke-width="1.3" fill="#fff" />
<path d="M818.5 630.4 L824 633 L835.8 624.6" stroke-width="1.17" fill="none" />
<path d="M820.4 629 Q819.6 625 822 621" stroke-width="0.78" fill="none" />
<path d="M824.4 627.6 L832 622.2" stroke="#000" stroke-width="1.8" stroke-linecap="round"/>
<path d="M824.6 627.4 L831.8 622.4" stroke="#fff" stroke-width="0.7" stroke-dasharray="0.6 0.7"/>
<ellipse cx="831.5" cy="636" rx="2.9" ry="3.8" stroke-width="1.17" fill="none" transform="rotate(10 831.5 636)" />
<ellipse cx="831.9" cy="636" rx="1.6" ry="2.4" stroke-width="0.65" fill="none" transform="rotate(10 831.9 636)" />
</g>
<g id="buckle-11">
<rect x="449.4" y="596" width="8.2" height="50" fill="#fff" stroke="none"/>
<line x1="449.6" y1="596" x2="449.6" y2="668" stroke-width="1.95" />
<line x1="457.6" y1="597" x2="457.6" y2="645" stroke-width="1.3" />
<path d="M449.6 615.5 Q453.6 617.1 457.6 615.5" stroke-width="1.04" fill="none" />
<path d="M449.6 619.2 Q453.6 620.8 457.6 619.2" stroke-width="1.04" fill="none" />
<path d="M449.6 623.6 Q453.6 625.2 457.6 623.6" stroke-width="1.04" fill="none" />
<path d="M449.6 627.6 Q453.6 629.2 457.6 627.6" stroke-width="1.04" fill="none" />
<path d="M449.2 644 L457.2 644.4 L459.4 654 L460 664.6 L459 668.4 L449.6 669.6 L448.8 667 Z" stroke-width="1.43" fill="#fff" />
<path d="M450 644.4 L453.6 644.6 L451 651 Z" stroke-width="0.78" fill="#000" />
<path d="M451 651 L452.6 667" stroke-width="0.91" fill="none" />
<ellipse cx="455.4" cy="660.6" rx="1.7" ry="2.4" stroke-width="1.04" fill="none" transform="rotate(12 455.4 660.6)" />
<path d="M437 545.6 L449 545 L452 540.8 Q455.6 539 460 539.4 Q464.6 540.4 466.4 543 Q468.4 545.6 468.8 549 L469.2 560 Q469.2 570 468 574 Q466.6 580 463.6 584.6 L459.4 589.4 L458 592 L457.6 598.6 L449.6 598 L449 593.6 L445 592.6 Q441.6 591 440 588 L436.4 576 Q434.6 562 435.6 550 Z" stroke-width="1.56" fill="#fff" />
<path d="M449 545.2 L452 540.8 Q455.6 539 460 539.4 Q464.6 540.4 466.6 543 L467.6 546 L457 548.6 L449 548.4 Z" stroke-width="1.04" fill="#000" />
<path d="M437.4 546 L444.6 548.6 L445.4 560 L446.4 575 L448.2 590" stroke-width="1.17" fill="none" />
<path d="M439.6 547.8 Q438.6 560 440.4 574 L444 589.4" stroke-width="1.04" fill="none" />
<path d="M435.6 551 L434.8 553 M435 559 L434.4 561 M435.2 568 L434.8 570" stroke-width="1.56" fill="none" />
<line x1="445.4" y1="554.6" x2="468" y2="549.8" stroke-width="1.17" />
<line x1="445.6" y1="557.2" x2="468.6" y2="552" stroke-width="1.17" />
<line x1="445.8" y1="560" x2="468.8" y2="554.6" stroke-width="1.17" />
<line x1="446" y1="551.4" x2="467.6" y2="547.4" stroke-width="0.91" />
<path d="M450 561.2 L466 557.6 L466.4 569 L450.2 574 Z" stroke-width="1.17" fill="none" />
<line x1="458" y1="555.4" x2="458.4" y2="589.4" stroke-width="0.91" />
<line x1="450" y1="563" x2="450.4" y2="588" stroke-width="0.78" />
<path d="M468.6 549 L469 562 Q469 570 468 574" stroke-width="2.6" fill="none" />
<path d="M465.6 582 L459.4 589.6" stroke-width="2.6" fill="none" />
<path d="M445 592.4 L448.6 591 L449.6 588" stroke-width="2.08" fill="none" />
<path d="M449.2 592.8 L452.4 596.6 L457.8 593.4" stroke-width="1.17" fill="none" />
</g>
<g id="buckle-10">
<line x1="631.3" y1="506" x2="631.3" y2="587" stroke-width="3.51" />
<rect x="619" y="508" width="9" height="56" fill="#fff" stroke="none"/>
<line x1="619.4" y1="508" x2="619.4" y2="564" stroke-width="1.69" />
<line x1="628" y1="508" x2="628" y2="564" stroke-width="1.17" />
<line x1="621.6" y1="512" x2="621.6" y2="563" stroke-width="0.78" />
<path d="M619.4 531.4 Q623.6 533 628 531.4" stroke-width="1.04" fill="none" />
<path d="M619.4 535.4 Q623.6 537 628 535.4" stroke-width="1.04" fill="none" />
<path d="M619.4 539.6 Q623.6 541.2 628 539.6" stroke-width="1.04" fill="none" />
<path d="M619.4 544 Q623.6 545.6 628 544" stroke-width="1.04" fill="none" />
<path d="M618.6 562.6 L628 563.6 L628.6 582 L626 585 L617.4 586 L617 583.6 Z" stroke-width="1.43" fill="#fff" />
<path d="M619.6 563 L622.6 563.4 L620 571 Z" stroke-width="0.78" fill="#000" />
<line x1="620" y1="571" x2="619.4" y2="585" stroke-width="0.91" />
<ellipse cx="624" cy="577" rx="1.7" ry="2.4" stroke-width="1.04" fill="none" transform="rotate(12 624 577)" />
<path d="M623.8 587.6 L632.8 586.4 L634 590 L637.8 591 L637.8 606 L635 608.6 L626 609.4 L623.6 606.4 Z" stroke-width="1.43" fill="#fff" />
<path d="M626.4 590.6 L626.4 608.6 M632 589 L632.4 608 M623.8 596.6 L632 595.6 M634 591 L634.4 607" stroke-width="1.17" fill="none" />
<path d="M626.6 598 L632 597.4 L632 607.6 L626.6 608.2 Z" stroke-width="0.65" fill="#555" />
<path d="M636.6 606 L637.6 609.4" stroke-width="1.3" fill="none" />
<path d="M610 464.6 L625 460.6 L628.6 457.8 Q632.6 456.6 636 457.6 Q639 459.4 640 462.2 L641.4 469.6 L641.6 481 L640.4 491 L638 502 Q636.6 505.4 634.6 506.6 L627 508.2 L619.4 510.2 Q615.6 509.6 613 507 L609.6 496 Q607.8 484 608.4 471 Q608.8 466.6 610 464.6 Z" stroke-width="1.56" fill="#fff" />
<path d="M610.4 464.8 L625 460.6 L628.6 457.8 Q632.6 456.6 636 457.6 Q639 459.4 640 462.2 L640.6 466 Q636 471.6 631 472.4 Q626.6 471.6 625.6 468 L624 466 L613 468.4 Z" stroke-width="1.04" fill="#000" />
<ellipse cx="632" cy="465.6" rx="3.6" ry="2" stroke-width="0.78" fill="#fff" transform="rotate(-28 632 465.6)" />
<path d="M626 470.4 Q631.6 474.4 639.6 467.4" stroke-width="1.17" fill="none" stroke="#fff"/>
<path d="M625.4 471.6 Q631.6 476 640.4 469" stroke-width="1.17" fill="none" />
<path d="M613.4 467.6 Q612 480 612.8 489 L617 507.4" stroke-width="1.17" fill="none" />
<path d="M616 469.6 L616.6 490 L618.6 506.4" stroke-width="1.17" fill="none" />
<rect x="616.2" y="476.4" width="5.6" height="7.4" stroke-width="1.3" fill="#fff"/>
<rect x="616.4" y="487.4" width="5.4" height="5.8" stroke-width="1.3" fill="#fff"/>
<line x1="623" y1="469" x2="624" y2="507" stroke-width="1.3" />
<line x1="632.6" y1="475" x2="632.4" y2="506" stroke-width="0.78" />
<line x1="619" y1="497.4" x2="640.6" y2="491.8" stroke-width="1.43" />
<line x1="619.4" y1="499" x2="640.2" y2="493.6" stroke-width="0.78" />
<path d="M608.6 470 Q607.8 484 609.6 496 L613 506.6" stroke-width="2.34" fill="none" />
<path d="M641.4 470 L641.6 481 L640.4 491" stroke-width="1.95" fill="none" />
<path d="M613 507 Q615.6 509.6 619.4 510.2 L627 508.4" stroke-width="2.34" fill="none" />
</g>
<g id="clip-12">
<path d="M64.8 200 L67.4 199 L70 199.6 L72.4 203 L77.6 203.6 L78.4 206 L77.8 208.4 L76.4 208.6 L76.2 213.4 L74 214 L73.6 217.6 L70 217.8 L65 211.6 Z" stroke-width="1.04" fill="#000" />
<path d="M67 201.6 L68 206 M69.4 203 L70 209 M71.6 206 L71.4 216 M74.2 207 L74 212.6" stroke-width="1.04" fill="none" stroke="#fff"/>
<path d="M66.4 203.4 L67 209.6 L69 212" stroke-width="0.78" fill="none" stroke="#ddd"/>
</g>
<g id="fwd">
<path d="M58.5 714.8 L76.5 688.5 L76.5 694.5 L97 685 L97 700 L76.5 711.5 L76.5 719.5 Z" stroke-width="1.17" fill="#fff" />
<path d="M58.5 714.8 L54.5 712.8 L73.5 686.2 L76.5 688.5" stroke-width="1.17" fill="none" />
<path d="M76.5 691.2 L92.7 682.6 L97 685" stroke-width="1.17" fill="none" />
<line x1="76.5" y1="694.5" x2="76.5" y2="688.5" stroke-width="1.17" />
<text class="fwd" transform="matrix(0.76 -0.425 0 1.8 70.8 713.4)">FWD</text>
</g>
</svg></body></html>
